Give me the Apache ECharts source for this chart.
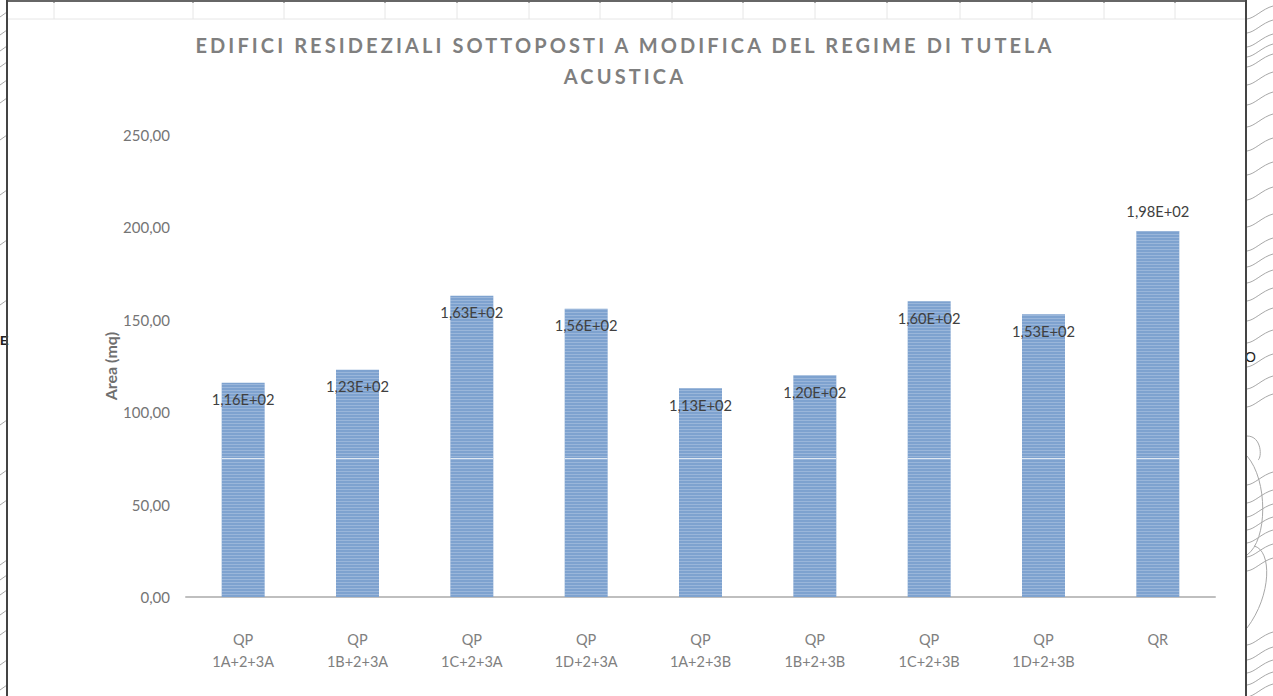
<!DOCTYPE html>
<html>
<head>
<meta charset="utf-8">
<title>Edifici residenziali</title>
<style>
  html, body { margin: 0; padding: 0; background: #fff; }
  #chart { width: 1273px; height: 696px; }
  /* il titolo originale e' spaziato, echarts non ha letterSpacing */
  #chart text[style*="20px"] { letter-spacing: 3.1px; }
</style>
<script src="https://cdn.jsdelivr.net/npm/echarts@6/dist/echarts.min.js"></script>
</head>
<body>
<div id="chart"></div>
<script>
var categories = ['QP\n1A+2+3A', 'QP\n1B+2+3A', 'QP\n1C+2+3A', 'QP\n1D+2+3A', 'QP\n1A+2+3B', 'QP\n1B+2+3B', 'QP\n1C+2+3B', 'QP\n1D+2+3B', 'QR'];
var areaValues = [116, 123, 163, 156, 113, 120, 160, 153, 198];
// la riga chiara che taglia tutte le barre nello screenshot
var seamValues = [75, 75, 75, 75, 75, 75, 75, 75, 75];
var yTicks = [0, 50, 100, 150, 200, 250];
var sheetColumns = [54, 193, 284, 385, 457, 529, 600, 672, 743, 815, 887, 960, 1032, 1104, 1175];

// curve di livello della mappa che si vede ai lati del grafico
var rightContourYs = [14, 28, 42, 52, 62, 80, 100, 122, 146, 170, 195, 222, 246, 262, 278, 296, 316, 338, 362, 384, 402, 480, 498, 512, 525, 538, 552, 566, 640, 655, 668, 680, 692];
var leftContourYs = [12, 30, 46, 62, 80, 98, 135, 190, 240, 300, 420, 470, 500, 560, 575, 590, 610, 630, 660, 685];

function sciLabel(v) {
  return v.toExponential(2).replace('.', ',').replace('e+', 'E+0');
}

function frameGraphics() {
  var g = [];
  var lineStyle = { stroke: '#a8a8a8', lineWidth: 1, fill: null };
  rightContourYs.forEach(function (y) {
    g.push({ type: 'bezierCurve', silent: true, shape: { x1: 1247, y1: y + 5, cpx1: 1255, cpy1: y + 4, cpx2: 1262, cpy2: y - 5, x2: 1273, y2: y - 8 }, style: lineStyle });
  });
  g.push({ type: 'bezierCurve', silent: true, shape: { x1: 1247, y1: 555, cpx1: 1268, cpy1: 540, cpx2: 1268, cpy2: 480, x2: 1247, y2: 456 }, style: lineStyle });
  g.push({ type: 'bezierCurve', silent: true, shape: { x1: 1247, y1: 628, cpx1: 1272, cpy1: 595, cpx2: 1272, cpy2: 550, x2: 1254, y2: 546 }, style: lineStyle });
  g.push({ type: 'bezierCurve', silent: true, shape: { x1: 1247, y1: 436, cpx1: 1262, cpy1: 436, cpx2: 1262, cpy2: 458, x2: 1258, y2: 460 }, style: lineStyle });
  leftContourYs.forEach(function (y) {
    g.push({ type: 'line', silent: true, shape: { x1: 0, y1: y + 5, x2: 7, y2: y }, style: lineStyle });
  });
  sheetColumns.forEach(function (x) {
    g.push({ type: 'line', silent: true, shape: { x1: x, y1: 0, x2: x, y2: 3 }, style: { stroke: '#555', lineWidth: 1 } });
    g.push({ type: 'line', silent: true, shape: { x1: x, y1: 3, x2: x, y2: 19 }, style: { stroke: '#e6e6e6', lineWidth: 1 } });
  });
  g.push({ type: 'line', silent: true, shape: { x1: 8, y1: 19, x2: 1245, y2: 19 }, style: { stroke: '#e6e6e6', lineWidth: 1 } });
  g.push({ type: 'text', silent: true, left: 0, top: 334, style: { text: 'E', font: 'bold 13px "Liberation Sans"', fill: '#222' } });
  g.push({ type: 'text', silent: true, left: 1245, top: 350, style: { text: 'O', font: '14px "Liberation Sans"', fill: '#222' } });
  g.push({ type: 'line', silent: true, shape: { x1: 7, y1: 1, x2: 1246, y2: 1 }, style: { stroke: '#666', lineWidth: 2 } });
  g.push({ type: 'line', silent: true, shape: { x1: 7, y1: 0, x2: 7, y2: 696 }, style: { stroke: '#444', lineWidth: 2 } });
  g.push({ type: 'line', silent: true, shape: { x1: 1246, y1: 0, x2: 1246, y2: 696 }, style: { stroke: '#444', lineWidth: 2 } });
  return g;
}

var chart = echarts.init(document.getElementById('chart'), null, { renderer: 'svg' });
chart.setOption({
  animation: false,
  backgroundColor: '#fff',
  textStyle: { fontFamily: 'Lato' },
  title: {
    text: 'EDIFICI RESIDEZIALI SOTTOPOSTI A MODIFICA DEL REGIME DI TUTELA\nACUSTICA',
    left: 620,
    top: 24,
    textAlign: 'center',
    textStyle: { fontFamily: 'Lato', fontSize: 20, fontWeight: 'bold', color: '#7f7f7f', lineHeight: 31 }
  },
  grid: { left: 186, right: 58, top: 135, bottom: 99 },
  xAxis: {
    type: 'category',
    data: categories,
    axisTick: { show: false },
    axisLine: { lineStyle: { color: '#bfbfbf', width: 2 } },
    axisLabel: { color: '#808080', fontSize: 14.5, lineHeight: 22, margin: 31, interval: 0 }
  },
  yAxis: {
    type: 'value',
    min: yTicks[0],
    max: yTicks[yTicks.length - 1],
    interval: yTicks[1] - yTicks[0],
    name: 'Area (mq)',
    nameLocation: 'middle',
    nameGap: 68,
    nameMoveOverlap: false,
    nameTextStyle: { color: '#6f6f6f', fontSize: 16, fontWeight: 'bold' },
    axisLine: { show: false },
    axisTick: { show: false },
    splitLine: { show: false },
    axisLabel: {
      color: '#757575',
      fontSize: 15,
      margin: 16,
      formatter: function (v) { return v.toFixed(2).replace('.', ','); }
    }
  },
  graphic: frameGraphics(),
  series: [{
    type: 'bar',
    barWidth: 43,
    data: areaValues.map(function (v, i) {
      var last = i === areaValues.length - 1;
      return {
        value: v,
        label: { position: last ? 'top' : 'insideTop', distance: last ? 13 : 9 }
      };
    }),
    itemStyle: {
      color: '#7ea2cf',
      decal: { symbol: 'rect', symbolSize: 1, dashArrayX: [1, 0], dashArrayY: [1, 2], color: 'rgba(255,255,255,0.22)' }
    },
    label: {
      show: true,
      color: '#404040',
      fontSize: 14.7,
      formatter: function (p) { return sciLabel(p.value); }
    }
  }, {
    type: 'scatter',
    data: seamValues,
    symbol: 'rect',
    symbolSize: [43, 1],
    itemStyle: { color: '#dfe8f2', opacity: 1 },
    silent: true
  }]
});
</script>
</body>
</html>
